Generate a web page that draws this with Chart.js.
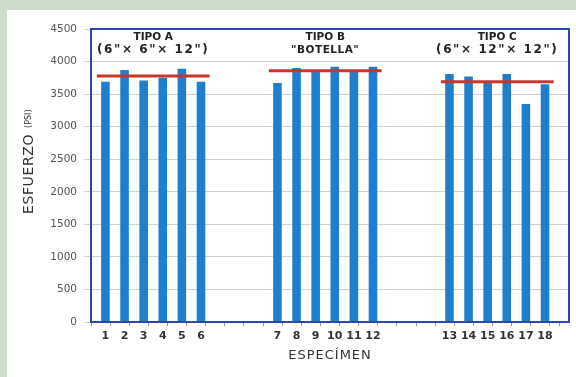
<!DOCTYPE html>
<html>
<head>
<meta charset="utf-8">
<script src="https://cdn.jsdelivr.net/npm/chart.js@4"></script>
<style>
  html, body { margin: 0; padding: 0; background: #cfddcd; }
  canvas { display: block; }
</style>
</head>
<body>
<canvas id="chart" width="576" height="377"></canvas>
<script>
// data
const specimens = ['1', '2', '3', '4', '5', '6', '7', '8', '9', '10', '11', '12', '13', '14', '15', '16', '17', '18'];
const esfuerzo = [3690, 3870, 3710, 3750, 3890, 3690, 3670, 3900, 3860, 3920, 3860, 3920, 3810, 3770, 3670, 3810, 3350, 3650];
const groupNames = ['TIPO A', 'TIPO B', 'TIPO C'];
const groupSizes = ['(6"× 6"× 12")', '"BOTELLA"', '(6"× 12"× 12")'];
const groupMeans = [3780, 3860, 3690];
const yTicks = [0, 500, 1000, 1500, 2000, 2500, 3000, 3500, 4000, 4500];

const perGroup = 6;
const emptySlots = 3;

// slot index of each specimen (3 empty slots between groups)
const slotOf = k => Math.floor(k / perGroup) * (perGroup + emptySlots) + (k % perGroup);
const slotLabels = {};
specimens.forEach((s, k) => { slotLabels[slotOf(k)] = s; });

const barData = esfuerzo.map((v, k) => ({ x: slotOf(k), y: v }));

const meanSets = groupMeans.map((m, g) => {
  const first = slotOf(g * perGroup);
  const last = slotOf(g * perGroup + perGroup - 1);
  return {
    type: 'line',
    label: 'Promedio ' + groupNames[g],
    data: [{ x: first - 0.45, y: m }, { x: last + 0.45, y: m }],
    borderColor: '#c8372d',
    borderWidth: 3,
    pointRadius: 0,
    order: 0
  };
});

const pageBg = {
  id: 'pageBg',
  beforeDraw(chart) {
    const c = chart.ctx;
    c.save();
    c.fillStyle = '#cfddcd';
    c.fillRect(0, 0, chart.width, chart.height);
    c.fillStyle = '#ffffff';
    c.fillRect(7, 10, chart.width - 7, chart.height - 10);
    c.restore();
  }
};

const frameAndText = {
  id: 'frameAndText',
  afterDraw(chart) {
    const c = chart.ctx;
    const a = chart.chartArea;
    const xs = chart.scales.x;
    c.save();
    c.strokeStyle = '#2f45b5';
    c.lineWidth = 2;
    c.strokeRect(a.left, a.top, a.right - a.left, a.bottom - a.top);

    // group headings
    c.fillStyle = '#222';
    c.textAlign = 'center';
    c.textBaseline = 'middle';
    groupNames.forEach((name, g) => {
      const mid = (slotOf(g * perGroup) + slotOf(g * perGroup + perGroup - 1)) / 2;
      const cx = xs.getPixelForValue(mid);
      c.letterSpacing = '0px';
      c.font = 'bold 10.5px "DejaVu Sans"';
      c.fillText(name, cx, a.top + 8);
      if (groupSizes[g].startsWith('(')) {
        c.font = 'bold 12px "DejaVu Sans"';
        c.letterSpacing = '1.6px';
      } else {
        c.font = 'bold 10.5px "DejaVu Sans"';
        c.letterSpacing = '0.5px';
      }
      c.fillText(groupSizes[g], cx, a.top + 21);
    });

    // x title
    c.letterSpacing = '1px';
    c.font = '13px "DejaVu Sans"';
    c.fillStyle = '#333';
    c.fillText('ESPECÍMEN', (a.left + a.right) / 2, 356);

    // y title
    c.translate(29, 214);
    c.rotate(-Math.PI / 2);
    c.textAlign = 'left';
    c.letterSpacing = '0.6px';
    c.font = '14px "DejaVu Sans"';
    c.fillText('ESFUERZO', 0, 0);
    const w = c.measureText('ESFUERZO ').width;
    c.letterSpacing = '0px';
    c.font = '8px "DejaVu Sans"';
    c.fillText('(PSI)', w + 1, 0);
    c.restore();
  }
};

const halfTicks = [];
for (let t = -0.5; t <= 23.5; t += 0.5) halfTicks.push(t);

new Chart(document.getElementById('chart'), {
  type: 'bar',
  data: {
    datasets: [
      {
        type: 'bar',
        label: 'Esfuerzo',
        data: barData,
        backgroundColor: '#1f7fcb',
        barPercentage: 0.9,
        categoryPercentage: 1,
        order: 1
      },
      ...meanSets
    ]
  },
  options: {
    responsive: false,
    devicePixelRatio: 1,
    animation: false,
    layout: { padding: { left: 0, right: 7, top: 29, bottom: 0 } },
    plugins: {
      legend: { display: false },
      tooltip: { enabled: false }
    },
    scales: {
      x: {
        type: 'linear',
        min: -0.5,
        max: 24,
        afterBuildTicks(scale) { scale.ticks = halfTicks.map(v => ({ value: v })); },
        afterFit(scale) { scale.height = 55; },
        border: { display: false },
        grid: {
          drawOnChartArea: false,
          tickLength: 4,
          color: ctx => (ctx.tick && Number.isInteger(ctx.tick.value)) ? 'rgba(0,0,0,0)' : '#9a9a9a'
        },
        ticks: {
          autoSkip: false,
          maxRotation: 0,
          padding: 4,
          color: '#333',
          font: { family: 'DejaVu Sans', size: 11, weight: 'bold' },
          callback: v => slotLabels[v] || ''
        }
      },
      y: {
        min: 0,
        max: 4500,
        afterBuildTicks(scale) { scale.ticks = yTicks.map(v => ({ value: v })); },
        afterFit(scale) { scale.width = 91; },
        border: { display: false },
        grid: { color: '#d2d2d2', tickLength: 7 },
        ticks: {
          padding: 7,
          color: '#555',
          font: { family: 'DejaVu Sans', size: 10.5 },
          callback: v => String(v)
        }
      }
    }
  },
  plugins: [pageBg, frameAndText]
});
</script>
</body>
</html>
